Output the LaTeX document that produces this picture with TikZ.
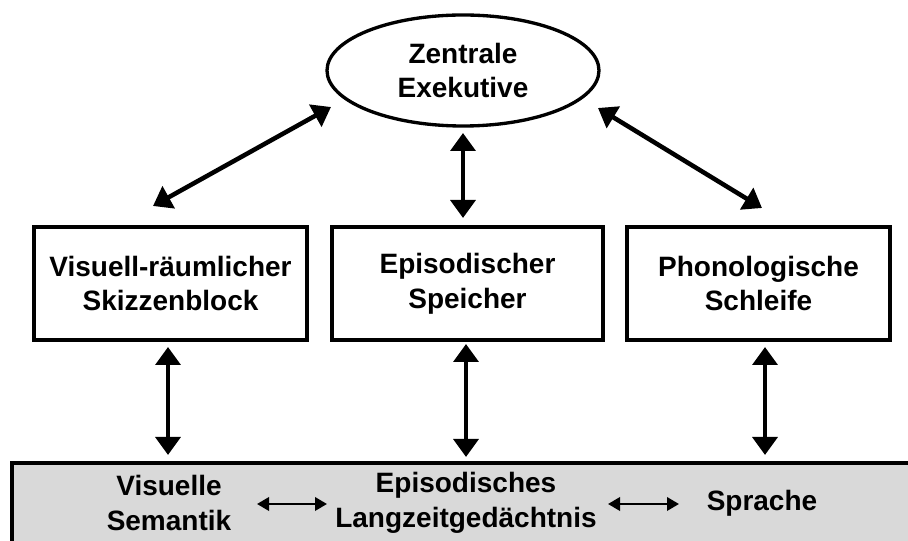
\documentclass[tikz,border=0pt]{standalone}
\usepackage{fontspec}
\setmainfont{Liberation Sans}
\usetikzlibrary{shapes.geometric,arrows.meta}
\definecolor{ltmgray}{HTML}{D9D9D9}
\tikzset{
  lbl/.style={font=\bfseries\fontsize{21}{26}\selectfont, align=center, text=black},
  boxnode/.style={lbl, draw=black, line width=2.9pt, fill=white, minimum height=84.75pt, inner sep=0pt},
  bigarrow/.style={line width=3.4pt, {Triangle[length=13.5pt,width=18.5pt]}-{Triangle[length=13.5pt,width=18.5pt]}},
  smallarrow/.style={line width=1.9pt, {Triangle[length=9pt,width=10pt]}-{Triangle[length=9pt,width=10pt]}},
}
\begin{document}
\begin{tikzpicture}[x=0.75pt,y=-0.75pt]
\useasboundingbox (0,0) rectangle (908,541);
\clip (0,0) rectangle (908,541);
\fill[white] (0,0) rectangle (908,541);
% bottom long-term memory box
\draw[line width=2.9pt, fill=ltmgray] (12,463) rectangle (930,570);
% central executive
\node[lbl, draw=black, line width=2.5pt, ellipse, minimum width=204pt, minimum height=83.25pt, inner sep=0pt] (ce) at (463,70.5) {Zentrale\\Exekutive};
% three subsystems
\node[boxnode, minimum width=204.75pt] (vs) at (170.5,283.5) {Visuell-räumlicher\\Skizzenblock};
\node[boxnode, minimum width=203.25pt] (es) at (467.5,283.5) {Episodischer\\Speicher};
\node[boxnode, minimum width=197.25pt] (pl) at (758.5,283.5) {Phonologische\\Schleife};
% bottom labels
\node[lbl] (sem) at (169,503) {Visuelle\\Semantik};
\node[lbl] (ltm) at (466,503) {Episodisches\\Langzeitgedächtnis};
\node[lbl] (spr) at (762,503) {Sprache};
% arrow end coordinates
\coordinate (a1s) at (331,107);
\coordinate (a1e) at (153,206);
\coordinate (a2s) at (598,108);
\coordinate (a2e) at (762,208);
\coordinate (a3s) at (463,133);
\coordinate (a3e) at (463,218);
\coordinate (b1s) at (168,347);
\coordinate (b1e) at (168,455);
\coordinate (b2s) at (466,344);
\coordinate (b2e) at (466,457);
\coordinate (b3s) at (765,347);
\coordinate (b3e) at (765,455);
\coordinate (h1s) at (257,504);
\coordinate (h1e) at (327,504);
\coordinate (h2s) at (608,504);
\coordinate (h2e) at (679,504);
% arrows
\draw[bigarrow] (a1s) -- (a1e);
\draw[bigarrow] (a2s) -- (a2e);
\draw[bigarrow] (a3s) -- (a3e);
\draw[bigarrow] (b1s) -- (b1e);
\draw[bigarrow] (b2s) -- (b2e);
\draw[bigarrow] (b3s) -- (b3e);
\draw[smallarrow] (h1s) -- (h1e);
\draw[smallarrow] (h2s) -- (h2e);
\end{tikzpicture}
\end{document}
